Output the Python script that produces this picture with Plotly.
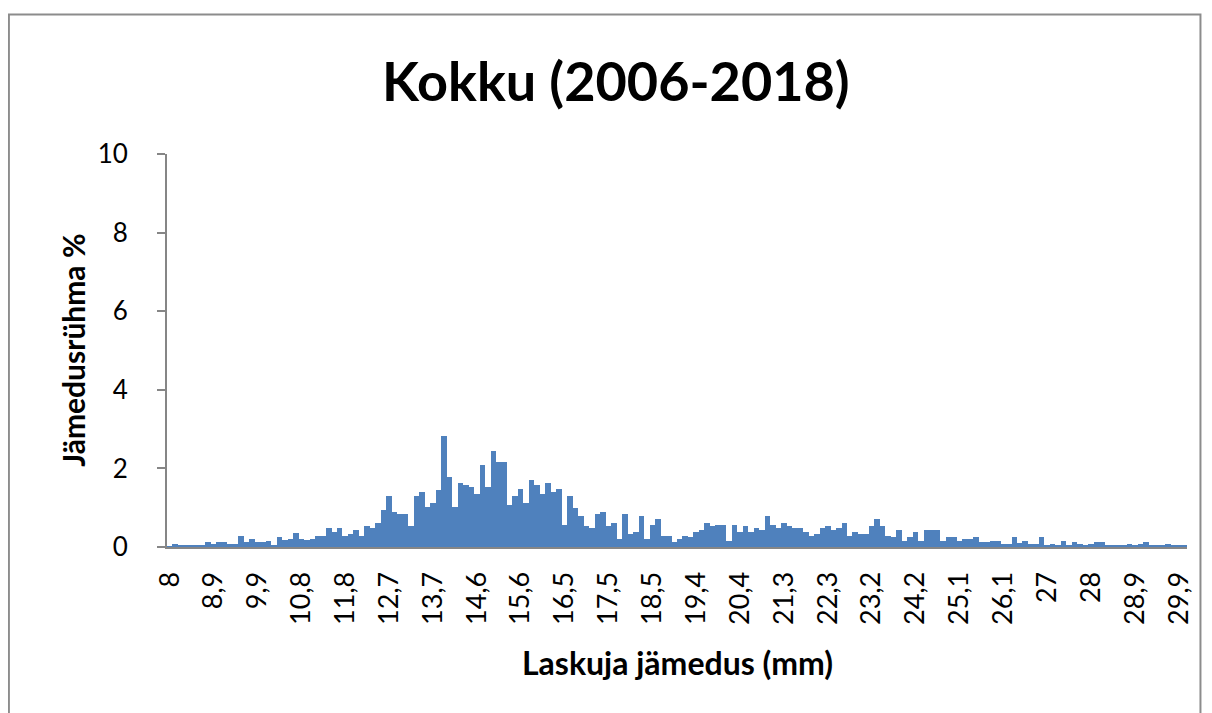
import plotly.graph_objects as go

# läbimõõdud (mm) – kategooriad nagu Exceli tabelis
kategooriad = [
    "8", "8,1", "8,2", "8,3", "8,4", "8,6", "8,7", "8,8",
    "8,9", "9", "9,1", "9,3", "9,4", "9,5", "9,7", "9,8",
    "9,9", "10", "10,1", "10,2", "10,4", "10,5", "10,6", "10,7",
    "10,8", "10,9", "11", "11,2", "11,3", "11,4", "11,6", "11,7",
    "11,8", "11,9", "12", "12,1", "12,3", "12,4", "12,5", "12,6",
    "12,7", "12,8", "12,9", "13,1", "13,2", "13,3", "13,5", "13,6",
    "13,7", "13,8", "13,9", "14", "14,2", "14,3", "14,4", "14,5",
    "14,6", "14,7", "14,8", "15", "15,1", "15,2", "15,4", "15,5",
    "15,6", "15,7", "15,8", "15,9", "16,1", "16,2", "16,3", "16,4",
    "16,5", "16,6", "16,7", "16,9", "17", "17,1", "17,3", "17,4",
    "17,5", "17,6", "17,7", "17,9", "18", "18,1", "18,3", "18,4",
    "18,5", "18,6", "18,7", "18,8", "19", "19,1", "19,2", "19,3",
    "19,4", "19,5", "19,6", "19,8", "19,9", "20", "20,2", "20,3",
    "20,4", "20,5", "20,6", "20,7", "20,9", "21", "21,1", "21,2",
    "21,3", "21,4", "21,5", "21,7", "21,8", "21,9", "22,1", "22,2",
    "22,3", "22,4", "22,5", "22,6", "22,8", "22,9", "23", "23,1",
    "23,2", "23,3", "23,4", "23,6", "23,7", "23,8", "24", "24,1",
    "24,2", "24,3", "24,4", "24,5", "24,7", "24,8", "24,9", "25",
    "25,1", "25,2", "25,3", "25,5", "25,6", "25,7", "25,9", "26",
    "26,1", "26,2", "26,3", "26,4", "26,6", "26,7", "26,8", "26,9",
    "27", "27,1", "27,2", "27,4", "27,5", "27,6", "27,8", "27,9",
    "28", "28,1", "28,2", "28,3", "28,5", "28,6", "28,7", "28,8",
    "28,9", "29", "29,1", "29,3", "29,4", "29,5", "29,7", "29,8",
    "29,9", "30",
]

# jämedusrühma osakaal (%)
protsent = [
    0.02, 0.08, 0.03, 0.03, 0.03, 0.03, 0.03, 0.14,
    0.08, 0.14, 0.14, 0.08, 0.08, 0.29, 0.14, 0.20,
    0.14, 0.14, 0.16, 0.03, 0.25, 0.17, 0.20, 0.35,
    0.20, 0.17, 0.20, 0.29, 0.29, 0.48, 0.37, 0.48,
    0.29, 0.34, 0.43, 0.29, 0.53, 0.48, 0.62, 0.94,
    1.29, 0.89, 0.84, 0.84, 0.53, 1.29, 1.39, 1.03,
    1.12, 1.44, 2.82, 1.79, 1.03, 1.63, 1.57, 1.53,
    1.35, 2.08, 1.53, 2.44, 2.17, 2.17, 1.07, 1.29,
    1.48, 1.13, 1.71, 1.57, 1.35, 1.62, 1.39, 1.48,
    0.57, 1.29, 0.98, 0.79, 0.53, 0.48, 0.84, 0.88,
    0.53, 0.61, 0.20, 0.84, 0.34, 0.38, 0.79, 0.20,
    0.56, 0.71, 0.29, 0.29, 0.12, 0.20, 0.29, 0.25,
    0.38, 0.43, 0.61, 0.54, 0.57, 0.57, 0.16, 0.57,
    0.38, 0.53, 0.38, 0.48, 0.43, 0.79, 0.57, 0.48,
    0.61, 0.53, 0.48, 0.48, 0.38, 0.29, 0.34, 0.48,
    0.53, 0.43, 0.48, 0.61, 0.29, 0.38, 0.34, 0.34,
    0.53, 0.71, 0.53, 0.29, 0.25, 0.43, 0.16, 0.25,
    0.38, 0.16, 0.43, 0.43, 0.43, 0.16, 0.25, 0.25,
    0.16, 0.20, 0.20, 0.25, 0.12, 0.12, 0.16, 0.16,
    0.08, 0.08, 0.25, 0.10, 0.16, 0.08, 0.08, 0.26,
    0.03, 0.08, 0.03, 0.16, 0.03, 0.12, 0.08, 0.03,
    0.08, 0.12, 0.12, 0.03, 0.03, 0.03, 0.03, 0.08,
    0.03, 0.08, 0.12, 0.03, 0.03, 0.03, 0.08, 0.03,
    0.03, 0.03,
]

# x-telje sildid (iga 8. kategooria)
x_sildid = ["8", "8,9", "9,9", "10,8", "11,8", "12,7", "13,7", "14,6",
            "15,6", "16,5", "17,5", "18,5", "19,4", "20,4", "21,3", "22,3",
            "23,2", "24,2", "25,1", "26,1", "27", "28", "28,9", "29,9"]
y_sildid = [0, 2, 4, 6, 8, 10]

FONT = "Lato, 'Open Sans', sans-serif"
TELG = "#868686"
SININE = "#4F81BD"

fig = go.Figure()

fig.add_trace(go.Bar(
    x=kategooriad,
    y=protsent,
    marker=dict(color=SININE, line=dict(width=0)),
    hovertemplate="%{x} mm: %{y}%<extra></extra>",
))

# diagrammi raam
fig.add_shape(
    type="rect", xref="paper", yref="paper",
    x0=-0.155, x1=1.0132, y0=-0.6, y1=1.355,
    line=dict(color="#8c8c8c", width=2),
)

fig.add_annotation(
    text="<b>Kokku (2006-2018)</b>", xref="paper", yref="paper",
    x=0.44, y=1.188, showarrow=False,
    font=dict(family=FONT, size=54, color="black"),
    xanchor="center", yanchor="middle",
)
fig.add_annotation(
    text="<b>Jämedusrühma %</b>", xref="paper", yref="paper",
    x=-0.093, y=0.5, textangle=-90, showarrow=False,
    font=dict(family=FONT, size=30, color="black"),
    xanchor="center", yanchor="middle",
)
fig.add_annotation(
    text="<b>Laskuja jämedus (mm)</b>", xref="paper", yref="paper",
    x=0.5, y=-0.294, showarrow=False,
    font=dict(family=FONT, size=32, color="black"),
    xanchor="center", yanchor="middle",
)

fig.update_layout(
    width=1204, height=705,
    paper_bgcolor="white", plot_bgcolor="white",
    margin=dict(l=159, r=25, t=146, b=166, autoexpand=False),
    bargap=0,
    showlegend=False,
    font=dict(family=FONT, color="black"),
    xaxis=dict(
        type="category",
        categoryorder="array", categoryarray=kategooriad,
        tickmode="array", tickvals=x_sildid, ticktext=x_sildid,
        tickangle=-90,
        tickfont=dict(size=27),
        showline=True, linecolor=TELG, linewidth=2,
        ticks="", showgrid=False, zeroline=False,
        ticklabelstandoff=12,
    ),
    yaxis=dict(
        range=[0, 10],
        tickmode="array", tickvals=y_sildid,
        tickfont=dict(size=26),
        showline=True, linecolor=TELG, linewidth=2,
        ticks="outside", ticklen=8, tickcolor=TELG, tickwidth=2,
        showgrid=False, zeroline=False,
        ticklabelstandoff=24,
    ),
)

fig.write_html("out.html")
